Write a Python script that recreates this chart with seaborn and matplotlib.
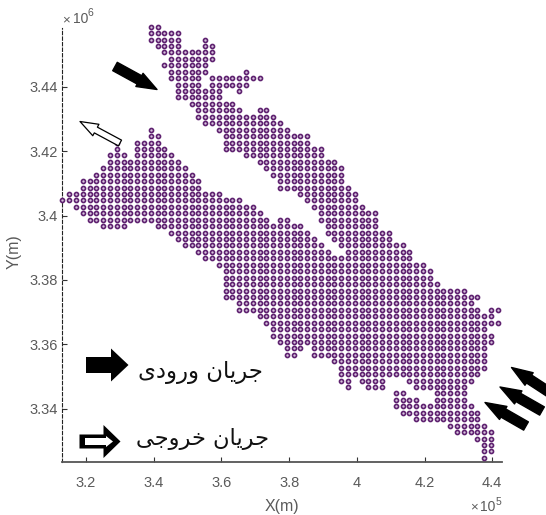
import matplotlib
matplotlib.use("Agg")
import matplotlib.pyplot as plt
import numpy as np
import pandas as pd
import seaborn as sns
from matplotlib.patches import FancyArrow
from matplotlib.transforms import IdentityTransform

# model grid nodes: one entry per row, north to south,
# each row holds (first column, last column) runs of active nodes
first_row = 27
x_origin = 3.13e5
y_origin = 3.4047e6
x_step = 2010
y_step = 2000
row_spans = [
    [(13, 14)],
    [(13, 17)],
    [(13, 17), (21, 21)],
    [(14, 17), (21, 22)],
    [(15, 22)],
    [(16, 22)],
    [(15, 21)],
    [(16, 21), (27, 27)],
    [(16, 20), (22, 29)],
    [(17, 20), (22, 27)],
    [(17, 23), (26, 26)],
    [(17, 23)],
    [(19, 25)],
    [(20, 26), (29, 30)],
    [(20, 31)],
    [(21, 32)],
    [(13, 13), (23, 33)],
    [(13, 14), (24, 36)],
    [(8, 8), (11, 14), (24, 36)],
    [(8, 8), (11, 15), (24, 38)],
    [(7, 9), (11, 16), (27, 38)],
    [(7, 17), (29, 40)],
    [(6, 18), (30, 41)],
    [(5, 19), (31, 41)],
    [(3, 20), (32, 41)],
    [(3, 20), (32, 42)],
    [(1, 23), (35, 43)],
    [(0, 26), (36, 43)],
    [(2, 28), (37, 44)],
    [(3, 29), (38, 46)],
    [(4, 30), (32, 33), (38, 46)],
    [(6, 9), (14, 35), (39, 46)],
    [(16, 36), (39, 48)],
    [(17, 37), (40, 48)],
    [(18, 38), (41, 50)],
    [(20, 39), (42, 51)],
    [(21, 51)],
    [(23, 53)],
    [(24, 54)],
    [(24, 54)],
    [(24, 55)],
    [(24, 59)],
    [(24, 61)],
    [(26, 60)],
    [(26, 61), (63, 64)],
    [(29, 63)],
    [(30, 64)],
    [(31, 62)],
    [(31, 63)],
    [(32, 63)],
    [(33, 35), (37, 62)],
    [(33, 34), (37, 62)],
    [(40, 62)],
    [(41, 62)],
    [(41, 61)],
    [(41, 42), (44, 47), (51, 60)],
    [(42, 42), (45, 47), (52, 59)],
    [(49, 50), (55, 59)],
    [(49, 52), (55, 59)],
    [(49, 60)],
    [(50, 61)],
    [(52, 61)],
    [(57, 62)],
    [(58, 63)],
    [(61, 63)],
    [(62, 63)],
    [(62, 63)],
    [(62, 62)],
]

x_ticks = [3.2e5, 3.4e5, 3.6e5, 3.8e5, 4.0e5, 4.2e5, 4.4e5]
x_labels = ["3.2", "3.4", "3.6", "3.8", "4", "4.2", "4.4"]
y_ticks = [3.34e6, 3.36e6, 3.38e6, 3.40e6, 3.42e6, 3.44e6]
y_labels = ["3.34", "3.36", "3.38", "3.4", "3.42", "3.44"]

# matplotlib does no arabic shaping, so presentation forms in visual order
inflow_label = "\ufbfc\ufea9\ufeed\ufead\ufeed \ufee5\ufe8e\ufbfe\ufeae\ufe9f"
outflow_label = "\ufbfd\ufe9f\ufeed\ufeae\ufea7 \ufee5\ufe8e\ufbfe\ufeae\ufe9f"

grey = "#5a5a5a"
W, H = 546, 515


def make_nodes():
    xs, ys = [], []
    for i, spans in enumerate(row_spans):
        for a, b in spans:
            for c in range(a, b + 1):
                xs.append(x_origin + x_step * c)
                ys.append(y_origin + y_step * (first_row - i))
    return pd.DataFrame({"x": xs, "y": ys})


def arrow(fig, tail, tip, width, head_w, head_l, fc="black", ec="black", lw=1.0):
    # pixel coordinates measured from top left of the image
    x0, y0 = tail[0], H - tail[1]
    x1, y1 = tip[0], H - tip[1]
    fig.add_artist(FancyArrow(x0, y0, x1 - x0, y1 - y0, width=width,
                              head_width=head_w, head_length=head_l,
                              length_includes_head=True, facecolor=fc,
                              edgecolor=ec, linewidth=lw, joinstyle="round",
                              transform=IdentityTransform(), zorder=5))


sns.set_style("white")
plt.rcParams["font.family"] = ["Liberation Sans", "DejaVu Sans"]

fig = plt.figure(figsize=(W / 100, H / 100), dpi=100)
ax = fig.add_axes([61.5 / W, 1 - 462 / H, 440.2 / W, 434 / H])

df = make_nodes()
sns.scatterplot(data=df, x="x", y="y", ax=ax, marker="o", s=8.5,
                facecolor="#d8c4de", edgecolor="#5f2270", linewidth=1.2,
                clip_on=False, legend=False, zorder=3)

ax.set_xlim(3.1276e5, 4.428e5)
ax.set_ylim(3.3234e6, 3.4583e6)
ax.set_xticks(x_ticks)
ax.set_xticklabels(x_labels)
ax.set_yticks(y_ticks)
ax.set_yticklabels(y_labels)
ax.tick_params(axis="both", direction="in", length=3.5, width=0.8, color="#333333",
               labelcolor=grey, labelsize=10.5, bottom=True, left=True)
ax.tick_params(axis="x", pad=10)
ax.tick_params(axis="y", pad=2.5)
ax.set_xlabel("")
ax.set_ylabel("")

for side in ["top", "right"]:
    ax.spines[side].set_visible(False)
ax.spines["bottom"].set_color("#555555")
ax.spines["bottom"].set_linewidth(1.3)
ax.spines["left"].set_color("#222222")
ax.spines["left"].set_linewidth(0.8)
ax.spines["left"].set_linestyle((0, (3, 2)))

fig.text(282 / W, 1 - 506 / H, "X(m)", color=grey, fontsize=11.5, ha="center", va="center")
fig.text(14 / W, 1 - 252 / H, "Y(m)", color=grey, fontsize=11.5, rotation=90,
         ha="center", va="center")

# axis multipliers
fig.text(62 / W, 1 - 20 / H, "\u00d7", color=grey, fontsize=9.5, ha="left", va="center")
fig.text(72.5 / W, 1 - 19 / H, "10", color=grey, fontsize=10, ha="left", va="center")
fig.text(88 / W, 1 - 13 / H, "6", color=grey, fontsize=7.5, ha="left", va="center")
fig.text(470 / W, 1 - 507 / H, "\u00d7", color=grey, fontsize=9.5, ha="left", va="center")
fig.text(480 / W, 1 - 507 / H, "10", color=grey, fontsize=10, ha="left", va="center")
fig.text(496 / W, 1 - 502 / H, "5", color=grey, fontsize=7.5, ha="left", va="center")

# legend made by hand in the original
arrow(fig, (86, 365), (128.5, 365), 16, 33, 17.5, lw=0)
arrow(fig, (79.5, 441.5), (120.5, 441.5), 14, 33, 17, lw=0)
arrow(fig, (85, 441.5), (113, 441.5), 7, 11, 7, fc="white", ec="white", lw=0)
fig.text(263 / W, 1 - 372 / H, inflow_label, color="#111111", fontsize=16.4, ha="right",
         va="center", family="DejaVu Sans")
fig.text(269 / W, 1 - 439 / H, outflow_label, color="#111111", fontsize=16.2, ha="right",
         va="center", family="DejaVu Sans")

# flow arrows
arrow(fig, (115, 66.5), (157, 89.5), 9.5, 15, 20)
arrow(fig, (526, 426), (485, 402.5), 9.5, 15, 21)
arrow(fig, (542, 411), (500, 387), 9.5, 15, 21)
arrow(fig, (552, 394), (511.5, 367.5), 9.5, 15, 21)
arrow(fig, (120, 143), (80, 121.5), 6.5, 13, 18, fc="white", lw=0.9)

fig.savefig("out.png", dpi=100)
plt.close(fig)
